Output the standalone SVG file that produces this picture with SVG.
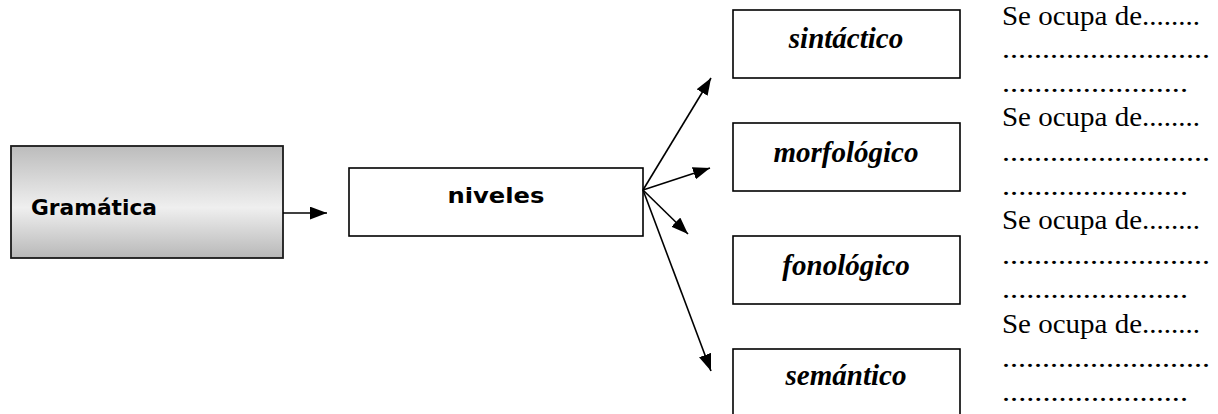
<svg xmlns="http://www.w3.org/2000/svg" width="1218" height="414" viewBox="0 0 1218 414">
<style>
.box{fill:#fff;stroke:#000;stroke-width:1.6}
.lbl{font-family:"Liberation Serif","Times New Roman",serif;font-weight:bold;font-style:italic;font-size:29px;text-anchor:middle;fill:#000}
.sans{font-family:"DejaVu Sans",Verdana,sans-serif;font-weight:bold;font-size:21.5px;fill:#000}
.note{font-family:"Liberation Serif","Times New Roman",serif;font-size:28px;fill:#000}
.conn{stroke:#000;stroke-width:1.6;fill:none;marker-end:url(#ah)}
</style>
<defs>
<linearGradient id="g" x1="0" y1="0" x2="0" y2="1">
<stop offset="0" stop-color="#bcbcbc"/>
<stop offset="0.55" stop-color="#efefef"/>
<stop offset="1" stop-color="#b8b8b8"/>
</linearGradient>
<marker id="ah" viewBox="0 0 16 12" refX="16" refY="6" markerWidth="17" markerHeight="13" markerUnits="userSpaceOnUse" orient="auto">
<path d="M0,0 L16,6 L0,12 z" fill="#000"/>
</marker>
</defs>
<rect width="1218" height="414" fill="#fff"/>
<g id="gramatica">
<rect x="11" y="146" width="272" height="112" fill="url(#g)" stroke="#1a1a1a" stroke-width="1.8"/>
<text class="sans" x="31" y="215" textLength="126" lengthAdjust="spacingAndGlyphs">Gramática</text>
</g>
<g id="niveles">
<rect class="box" x="349" y="168" width="294" height="68"/>
<text class="sans" x="496" y="203" text-anchor="middle" font-size="23" textLength="97" lengthAdjust="spacingAndGlyphs">niveles</text>
</g>
<g id="sintactico">
<rect class="box" x="733" y="10" width="227" height="68"/>
<text class="lbl" x="846" y="48">sintáctico</text>
</g>
<g id="morfologico">
<rect class="box" x="733" y="123" width="227" height="68"/>
<text class="lbl" x="846" y="162">morfológico</text>
</g>
<g id="fonologico">
<rect class="box" x="733" y="236" width="227" height="68"/>
<text class="lbl" x="846" y="275">fonológico</text>
</g>
<g id="semantico">
<rect class="box" x="733" y="349" width="227" height="68"/>
<text class="lbl" x="846" y="385">semántico</text>
</g>
<g id="connectors">
<line class="conn" x1="283" y1="213" x2="327" y2="213"/>
<line class="conn" x1="643" y1="190" x2="711" y2="78"/>
<line class="conn" x1="643" y1="190" x2="710" y2="168"/>
<line class="conn" x1="643" y1="190" x2="688" y2="234"/>
<line class="conn" x1="643" y1="190" x2="711" y2="371"/>
</g>
<g id="notes">
<text class="note" x="1002" y="25" textLength="198" lengthAdjust="spacingAndGlyphs">Se ocupa de........</text>
<text class="note" x="1002" y="58" textLength="208" lengthAdjust="spacingAndGlyphs">..........................</text>
<text class="note" x="1002" y="92" textLength="186" lengthAdjust="spacingAndGlyphs">.......................</text>
<text class="note" x="1002" y="126" textLength="198" lengthAdjust="spacingAndGlyphs">Se ocupa de........</text>
<text class="note" x="1002" y="161" textLength="208" lengthAdjust="spacingAndGlyphs">..........................</text>
<text class="note" x="1002" y="195" textLength="186" lengthAdjust="spacingAndGlyphs">.......................</text>
<text class="note" x="1002" y="229" textLength="198" lengthAdjust="spacingAndGlyphs">Se ocupa de........</text>
<text class="note" x="1002" y="264" textLength="208" lengthAdjust="spacingAndGlyphs">..........................</text>
<text class="note" x="1002" y="298" textLength="186" lengthAdjust="spacingAndGlyphs">.......................</text>
<text class="note" x="1002" y="333" textLength="198" lengthAdjust="spacingAndGlyphs">Se ocupa de........</text>
<text class="note" x="1002" y="367" textLength="208" lengthAdjust="spacingAndGlyphs">..........................</text>
<text class="note" x="1002" y="401" textLength="186" lengthAdjust="spacingAndGlyphs">.......................</text>
</g>
</svg>
